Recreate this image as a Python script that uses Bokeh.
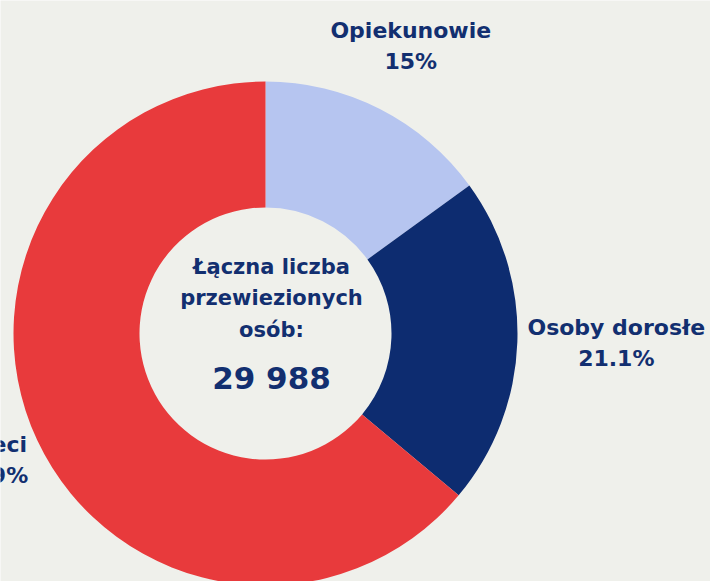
import math
from bokeh.plotting import figure
from bokeh.models import Range1d, ColumnDataSource
from bokeh.core.properties import value
from bokeh.embed import file_html
from bokeh.resources import INLINE

categories = ["Opiekunowie", "Osoby dorosłe", "Dzieci"]
shares = [15.0, 21.1, 63.9]
share_labels = ["15%", "21.1%", "63.9%"]
colors = ["#b6c5f0", "#0d2c70", "#e83a3c"]
center_lines = ["Łączna liczba", "przewiezionych", "osób:"]
total_label = "29 988"

BG = "#eff0eb"
NAVY = "#122f70"
FONT = "DejaVu Sans"

W, H = 710, 581
p = figure(width=W, height=H, output_backend="svg", toolbar_location=None,
           x_range=Range1d(0, W), y_range=Range1d(0, H),
           background_fill_color=BG, border_fill_color=BG, min_border=0)
p.axis.visible = False
p.grid.visible = False
p.outline_line_color = None

cx, cy = 265, H - 333
r_out, r_in = 252, 126

starts, ends, mids = [], [], []
a = math.pi / 2
for s in shares:
    e = a - s / 100 * 2 * math.pi
    starts.append(a)
    ends.append(e)
    mids.append((a + e) / 2)
    a = e

src = ColumnDataSource(dict(start=starts, end=ends, color=colors))
p.annular_wedge(x=cx, y=cy, inner_radius=r_in, outer_radius=r_out,
                start_angle="start", end_angle="end", direction="clock",
                fill_color="color", line_color=None, source=src)

# outer labels
label_r = [320, 351, 304]
lx = [cx + r * math.cos(m) for r, m in zip(label_r, mids)]
ly = [cy + r * math.sin(m) for r, m in zip(label_r, mids)]
p.text(x=lx, y=[y + 18 for y in ly], text=categories, text_align="center",
       text_baseline="middle", text_font=value(FONT), text_font_style="bold",
       text_font_size="22px", text_color=NAVY)
p.text(x=lx, y=[y - 13 for y in ly], text=share_labels, text_align="center",
       text_baseline="middle", text_font=value(FONT), text_font_style="bold",
       text_font_size="22px", text_color=NAVY)

# center text
p.text(x=[cx + 6] * 3, y=[cy + 67, cy + 36, cy + 4], text=center_lines,
       text_align="center", text_baseline="middle", text_font=value(FONT),
       text_font_style="bold", text_font_size="21px", text_color=NAVY)
p.text(x=[cx + 6], y=[cy - 44], text=[total_label], text_align="center",
       text_baseline="middle", text_font=value(FONT), text_font_style="bold",
       text_font_size="31px", text_color=NAVY)

html = file_html(p, INLINE)
html = html.replace("<body>", f'<body style="background:{BG};margin:0">', 1)
open("out.html", "w").write(html)
